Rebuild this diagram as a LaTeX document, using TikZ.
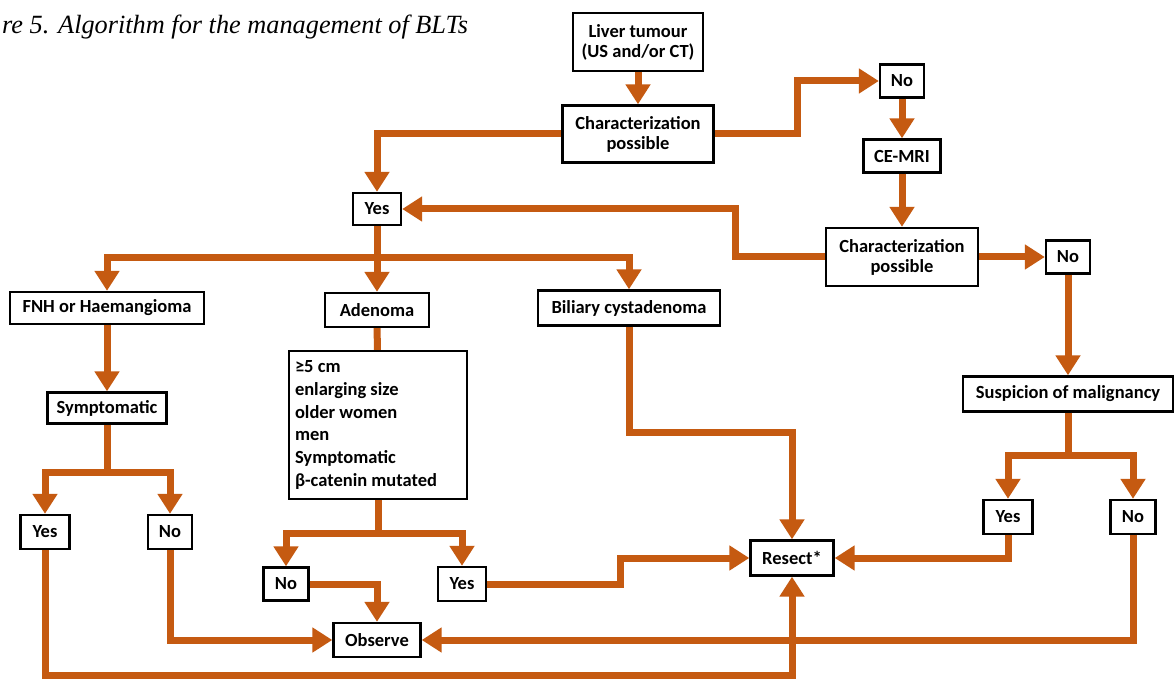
\documentclass[tikz,border=0pt]{standalone}
\usepackage{fontspec}
\setmainfont{Carlito}
\newfontfamily\titlefont{Liberation Serif}
\usetikzlibrary{arrows.meta}
\definecolor{arrowc}{RGB}{197,90,17}
\begin{document}
\begin{tikzpicture}[x=1pt,y=-1pt,
  box/.style={draw=black, line width=2.4pt, fill=white, inner sep=0pt, align=center,
    font=\fontsize{18.5}{20}\selectfont\bfseries},
  conn/.style={draw=arrowc, line width=7pt},
  arr/.style={conn, -{Triangle[length=20pt,width=24pt]}},
]
\useasboundingbox (0,0) rectangle (1176,679);
\fill[white] (0,0) rectangle (1176,679);

\node[anchor=base west, inner sep=0pt, font=\titlefont\itshape\fontsize{26.3}{30}\selectfont] (title) at (2,34) {re 5. Algorithm for the management of BLTs};

\node[box, minimum width=130pt, minimum height=58pt] (liver) at (638,42) {Liver tumour\\(US and/or CT)};
\node[box, minimum width=151pt, minimum height=57pt] (char1) at (638,134) {Characterization\\possible};
\node[box, minimum width=44pt, minimum height=33pt] (no1) at (902,81) {No};
\node[box, minimum width=77pt, minimum height=33pt] (cemri) at (902,156) {CE-MRI};
\node[box, minimum width=48pt, minimum height=32pt] (yes1) at (377,209) {Yes};
\node[box, minimum width=152pt, minimum height=58pt] (char2) at (902,257) {Characterization\\possible};
\node[box, minimum width=44pt, minimum height=33pt] (no2) at (1068,257) {No};
\node[box, minimum width=210pt, minimum height=35pt] (susp) at (1068,394) {Suspicion of malignancy};
\node[box, minimum width=194pt, minimum height=32pt] (fnh) at (107,308) {FNH or Haemangioma};
\node[box, minimum width=104pt, minimum height=34pt] (aden) at (377,310) {Adenoma};
\node[box, minimum width=182pt, minimum height=35pt] (bil) at (629,308) {Biliary cystadenoma};
\node[box, text width=166pt, inner xsep=6pt, minimum height=148pt, align=left,
  font=\fontsize{18.5}{22.7}\selectfont\bfseries] (crit) at (378,425)
  {\spaceskip=0pt\xspaceskip=0pt\relax ≥5 cm\\enlarging size\\older women\\men\\Symptomatic\\β-catenin mutated};
\node[box, minimum width=119pt, minimum height=31pt] (sym) at (107,408) {Symptomatic};
\node[box, minimum width=49pt, minimum height=34pt] (yesL) at (45,532) {Yes};
\node[box, minimum width=44pt, minimum height=34pt] (noL) at (170,532) {No};
\node[box, minimum width=45pt, minimum height=33pt] (noM) at (286,584) {No};
\node[box, minimum width=48pt, minimum height=34pt] (yesM) at (462,584) {Yes};
\node[box, minimum width=87pt, minimum height=34pt] (obs) at (377,640) {Observe};
\node[box, minimum width=83pt, minimum height=35pt] (resect) at (792,558) {Resect*};
\node[box, minimum width=49pt, minimum height=34pt] (yesR) at (1008,517) {Yes};
\node[box, minimum width=45pt, minimum height=34pt] (noR) at (1133,517) {No};

\coordinate (k1) at (797,134);
\coordinate (k2) at (735,257);
\coordinate (s1) at (377,258);
\coordinate (s2) at (107,472);
\coordinate (s3) at (378,533);
\coordinate (s4) at (1068,455);
\coordinate (k3) at (620,584);
\coordinate (k4) at (45,675);
\coordinate (k5) at (629,432);

\draw[arr] (liver) -- (char1);
\draw[arr] (char1.west) -| (yes1.north);
\draw[arr] (char1.east) -- (k1) |- (no1.west);
\draw[arr] (no1) -- (cemri);
\draw[arr] (cemri) -- (char2);
\draw[arr] (char2) -- (no2);
\draw[arr] (no2) -- (susp);
\draw[arr] (char2.west) -- (k2) |- (yes1.east);
\draw[arr] (yes1) -- (aden);
\draw[arr] (s1) -| (fnh.north);
\draw[arr] (s1) -| (bil.north);
\draw[conn] (aden) -- (crit);
\draw[arr] (fnh) -- (sym);
\draw[conn] (sym) -- (s2);
\draw[arr] (s2) -| (yesL.north);
\draw[arr] (s2) -| (noL.north);
\draw[conn] (crit) -- (s3);
\draw[arr] (s3) -| (noM.north);
\draw[arr] (s3) -| (yesM.north);
\draw[arr] (noM.east) -| (obs.north);
\draw[arr] (noL.south) |- (obs.west);
\draw[arr] (noR.south) |- (obs.east);
\draw[arr] (yesM.east) -- (k3) |- (resect.west);
\draw[arr] (yesR.south) |- (resect.east);
\draw[arr] (yesL.south) -- (k4) -| (resect.south);
\draw[arr] (bil.south) -- (k5) -| (resect.north);
\draw[conn] (susp) -- (s4);
\draw[arr] (s4) -| (yesR.north);
\draw[arr] (s4) -| (noR.north);
\end{tikzpicture}
\end{document}
